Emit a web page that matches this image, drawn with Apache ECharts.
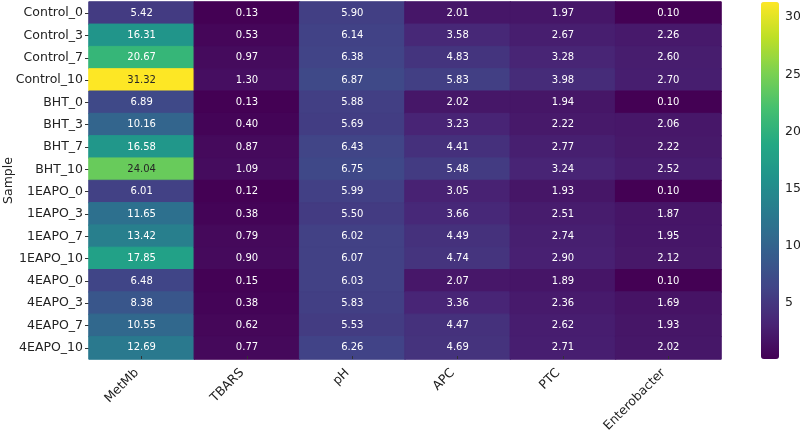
<!DOCTYPE html>
<html>
<head>
<meta charset="utf-8">
<script src="https://cdn.jsdelivr.net/npm/echarts@6/dist/echarts.min.js"></script>
<style>
  html, body { margin: 0; padding: 0; background: #fff; }
  #chart { width: 800px; height: 430px; }
</style>
</head>
<body>
<div id="chart"></div>
<script>
const samples = [
  "Control_0", "Control_3", "Control_7", "Control_10",
  "BHT_0", "BHT_3", "BHT_7", "BHT_10",
  "1EAPO_0", "1EAPO_3", "1EAPO_7", "1EAPO_10",
  "4EAPO_0", "4EAPO_3", "4EAPO_7", "4EAPO_10"
];
const measures = ["MetMb", "TBARS", "pH", "APC", "PTC", "Enterobacter"];

// one array per column, in sample order
const metMb = [5.42, 16.31, 20.67, 31.32, 6.89, 10.16, 16.58, 24.04, 6.01, 11.65, 13.42, 17.85, 6.48, 8.38, 10.55, 12.69];
const tbars = [0.13, 0.53, 0.97, 1.30, 0.13, 0.40, 0.87, 1.09, 0.12, 0.38, 0.79, 0.90, 0.15, 0.38, 0.62, 0.77];
const ph = [5.90, 6.14, 6.38, 6.87, 5.88, 5.69, 6.43, 6.75, 5.99, 5.50, 6.02, 6.07, 6.03, 5.83, 5.53, 6.26];
const apc = [2.01, 3.58, 4.83, 5.83, 2.02, 3.23, 4.41, 5.48, 3.05, 3.66, 4.49, 4.74, 2.07, 3.36, 4.47, 4.69];
const ptc = [1.97, 2.67, 3.28, 3.98, 1.94, 2.22, 2.77, 3.24, 1.93, 2.51, 2.74, 2.90, 1.89, 2.36, 2.62, 2.71];
const enterobacter = [0.10, 2.26, 2.60, 2.70, 0.10, 2.06, 2.22, 2.52, 0.10, 1.87, 1.95, 2.12, 0.10, 1.69, 1.93, 2.02];

const colorbarTicks = [5, 10, 15, 20, 25, 30];

const columns = [metMb, tbars, ph, apc, ptc, enterobacter];
const allValues = columns.flat();
const vMin = Math.min(...allValues);
const vMax = Math.max(...allValues);

const viridis = ["#440154", "#482475", "#414487", "#355f8d", "#2a788e", "#21918c",
                 "#22a884", "#44bf70", "#7ad151", "#bddf26", "#fde725"];

// border in the cell's own colour hides the anti-aliased seams between cells
const data = [];
columns.forEach((col, xi) => {
  col.forEach((v, yi) => {
    const t = (v - vMin) / (vMax - vMin);
    data.push({
      value: [xi, yi, v],
      label: { color: t > 0.72 ? "#262626" : "#fff" },
      itemStyle: { borderColor: echarts.color.lerp(t, viridis), borderWidth: 1 }
    });
  });
});

const font = "DejaVu Sans";
const chart = echarts.init(document.getElementById("chart"));

chart.setOption({
  backgroundColor: "#fff",
  animation: false,
  textStyle: { fontFamily: font },
  grid: [
    { left: 89, right: 79, top: 2, bottom: 71, outerBoundsMode: "none", containLabel: false },
    { left: 761, width: 18, top: 2, height: 357, outerBoundsMode: "none", containLabel: false }
  ],
  xAxis: [
    {
      type: "category",
      data: measures,
      gridIndex: 0,
      axisLine: { show: false },
      axisTick: { show: true, alignWithLabel: true, inside: true, length: 3, lineStyle: { color: "#333" } },
      axisLabel: { rotate: 45, fontSize: 12.5, color: "#222", fontFamily: font, margin: 7, padding: [0, 7, 0, 0] },
      splitLine: { show: false },
      z: 10
    },
    { type: "value", gridIndex: 1, show: false, min: 0, max: 1 }
  ],
  yAxis: [
    {
      type: "category",
      data: samples,
      inverse: true,
      gridIndex: 0,
      name: "Sample",
      nameLocation: "middle",
      nameGap: 74,
      nameRotate: 90,
      nameMoveOverlap: false,
      nameTextStyle: { fontSize: 12.5, color: "#222", fontFamily: font },
      axisLine: { show: false },
      axisTick: { show: true, alignWithLabel: true, length: 4, lineStyle: { color: "#333" } },
      axisLabel: { fontSize: 12.5, color: "#222", fontFamily: font, margin: 6 },
      splitLine: { show: false }
    },
    {
      type: "value",
      gridIndex: 1,
      position: "right",
      min: vMin,
      max: vMax,
      axisLine: { show: false },
      axisTick: { show: true, length: 4, customValues: colorbarTicks, lineStyle: { color: "#333" } },
      axisLabel: { fontSize: 12.5, color: "#222", fontFamily: font, margin: 6, customValues: colorbarTicks },
      splitLine: { show: false }
    }
  ],
  visualMap: {
    type: "continuous",
    seriesIndex: 0,
    min: vMin,
    max: vMax,
    calculable: false,
    realtime: false,
    text: null,
    showLabel: false,
    left: 761,
    top: 2,
    itemWidth: 18,
    itemHeight: 357,
    padding: 0,
    hoverLink: false,
    inRange: { color: viridis }
  },
  series: [
    {
      type: "heatmap",
      xAxisIndex: 0,
      yAxisIndex: 0,
      data: data,
      label: { show: true, fontSize: 10, fontFamily: font, formatter: p => p.value[2].toFixed(2) },
      emphasis: { disabled: true }
    },
    {
      type: "scatter",
      xAxisIndex: 1,
      yAxisIndex: 1,
      data: [],
      silent: true
    }
  ]
});
</script>
</body>
</html>
